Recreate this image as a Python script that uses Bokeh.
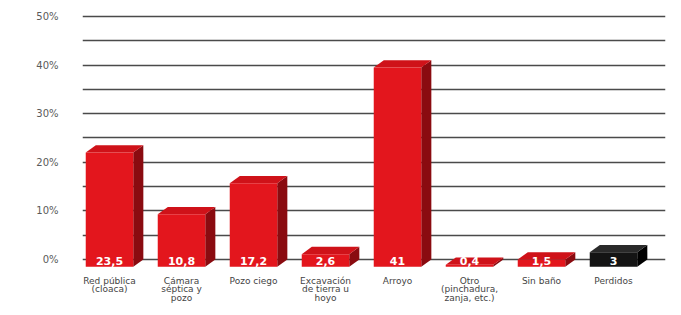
from bokeh.plotting import figure
from bokeh.models import FixedTicker, Range1d
from bokeh.core.properties import value
from bokeh.embed import file_html
from bokeh.resources import INLINE

# ---- data ----
categories = [
    "Red pública\n(cloaca)",
    "Cámara\nséptica y\npozo",
    "Pozo ciego",
    "Excavación\nde tierra u\nhoyo",
    "Arroyo",
    "Otro\n(pinchadura,\nzanja, etc.)",
    "Sin baño",
    "Perdidos",
]
values = [23.5, 10.8, 17.2, 2.6, 41, 0.4, 1.5, 3]
value_labels = ["23,5", "10,8", "17,2", "2,6", "41", "0,4", "1,5", "3"]
y_ticks = [0, 10, 20, 30, 40, 50]
y_tick_labels = ["0%", "10%", "20%", "30%", "40%", "50%"]
grid_ticks = [0, 5, 10, 15, 20, 25, 30, 35, 40, 45, 50]

# ---- style ----
RED = dict(front="#e3161d", side="#8a0b10", top="#cf1219")
BLACK = dict(front="#141414", side="#000000", top="#2a2a2a")
palette = [RED] * 7 + [BLACK]
BAR_W = 0.66      # front face width (category units)
DX = 0.14         # depth offset x
DY = -1.5         # depth offset y (front face shifted down)
LABEL_Y = -0.35
CAT_Y = -3.3

n = len(categories)
xs_c = list(range(n))

front_x, front_y, side_x, side_y, top_x, top_y = [], [], [], [], [], []
fc, sc, tc = [], [], []
for i, v in enumerate(values):
    xl, xr = i - BAR_W / 2, i + BAR_W / 2
    front_x.append([xl, xr, xr, xl])
    front_y.append([DY, DY, v + DY, v + DY])
    side_x.append([xr, xr + DX, xr + DX, xr])
    side_y.append([DY, 0, v, v + DY])
    top_x.append([xl, xl + DX, xr + DX, xr])
    top_y.append([v + DY, v, v, v + DY])
    fc.append(palette[i]["front"])
    sc.append(palette[i]["side"])
    tc.append(palette[i]["top"])

x0 = -0.375
p = figure(
    width=673, height=307,
    x_range=Range1d(x0, x0 + 583 / 72),
    y_range=Range1d(-9.47, 50.82),
    output_backend="svg", toolbar_location=None,
    min_border_left=82, min_border_right=8, min_border_top=12, min_border_bottom=2,
)
p.outline_line_color = None
p.background_fill_color = "white"
p.xaxis.visible = False
p.xgrid.visible = False
p.ygrid.ticker = FixedTicker(ticks=grid_ticks)
p.ygrid.grid_line_color = "#4a4a4a"
p.ygrid.grid_line_width = 1.3

ax = p.yaxis[0]
ax.ticker = FixedTicker(ticks=y_ticks)
ax.major_label_overrides = {t: l for t, l in zip(y_ticks, y_tick_labels)}
ax.axis_line_color = None
ax.major_tick_line_color = None
ax.minor_tick_line_color = None
ax.major_tick_out = 0
ax.major_label_standoff = 24
ax.major_label_text_font = "DejaVu Sans"
ax.major_label_text_font_size = "10px"
ax.major_label_text_color = "#5a5a5a"
ax.major_label_text_font_style = "normal"

p.patches(side_x, side_y, fill_color=sc, line_color=None)
p.patches(top_x, top_y, fill_color=tc, line_color=None)
p.patches(front_x, front_y, fill_color=fc, line_color=None)

p.text(x=xs_c, y=[LABEL_Y] * n, text=value_labels,
       text_font=value("DejaVu Sans"), text_font_size="11px",
       text_font_style="bold", text_color="white",
       text_align="center", text_baseline="middle")

p.text(x=xs_c, y=[CAT_Y] * n, text=categories,
       text_font=value("DejaVu Sans"), text_font_size="9px",
       text_color="#444444", text_align="center", text_baseline="top",
       text_line_height=0.88)

open("out.html", "w").write(file_html(p, INLINE))
